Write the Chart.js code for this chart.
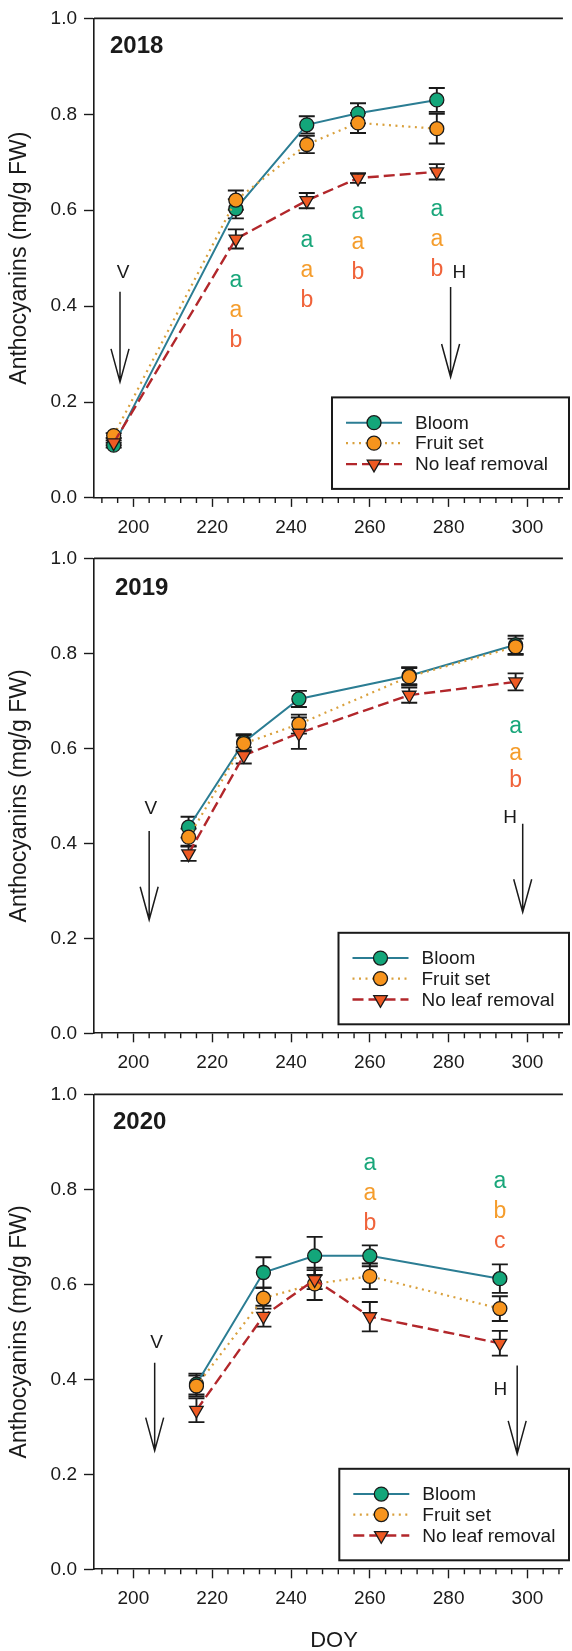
<!DOCTYPE html>
<html>
<head>
<meta charset="utf-8">
<script src="https://cdn.jsdelivr.net/npm/chart.js@4.4.1/dist/chart.umd.min.js"></script>
<style>
  html, body { margin: 0; padding: 0; background: #fff; width: 572px; height: 1651px; overflow: hidden; }
  canvas { position: absolute; left: 0; }
</style>
</head>
<body>
<canvas id="c2018" width="572" height="540" style="top:0px"></canvas>
<canvas id="c2019" width="572" height="536" style="top:540px"></canvas>
<canvas id="c2020" width="572" height="575" style="top:1076px"></canvas>
<script>
// ---- Anthocyanin content (mg/g FW), mean ± SE, by sampling day (DOY) ----
const doy2018 = [195, 226, 244, 257, 277];
const bloom2018 = [0.110, 0.603, 0.778, 0.802, 0.830];
const bloomErr2018 = [0.005, 0.020, 0.018, 0.021, 0.025];
const fruitSet2018 = [0.130, 0.621, 0.737, 0.782, 0.770];
const fruitSetErr2018 = [0.005, 0.020, 0.018, 0.021, 0.031];
const noRemoval2018 = [0.115, 0.540, 0.620, 0.667, 0.680];
const noRemovalErr2018 = [0.005, 0.020, 0.016, 0.010, 0.016];

const doy2019 = [214, 228, 242, 270, 297];
const bloom2019 = [0.434, 0.613, 0.704, 0.753, 0.818];
const bloomErr2019 = [0.022, 0.017, 0.017, 0.018, 0.019];
const fruitSet2019 = [0.413, 0.610, 0.651, 0.751, 0.814];
const fruitSetErr2019 = [0.018, 0.017, 0.020, 0.018, 0.017];
const noRemoval2019 = [0.378, 0.585, 0.632, 0.712, 0.740];
const noRemovalErr2019 = [0.015, 0.017, 0.033, 0.016, 0.018];

const doy2020 = [216, 233, 246, 260, 293];
const bloom2020 = [0.390, 0.625, 0.660, 0.660, 0.612];
const bloomErr2020 = [0.022, 0.032, 0.040, 0.022, 0.030];
const fruitSet2020 = [0.386, 0.571, 0.601, 0.617, 0.549];
const fruitSetErr2020 = [0.022, 0.022, 0.034, 0.027, 0.026];
const noRemoval2020 = [0.335, 0.533, 0.610, 0.532, 0.476];
const noRemovalErr2020 = [0.025, 0.022, 0.020, 0.031, 0.026];

// ---- significance letters (per sampling date) ----
const letterDoy2018 = [226, 244, 257, 277];
const lettersBloom2018 = ['a', 'a', 'a', 'a'];
const lettersFruitSet2018 = ['a', 'a', 'a', 'a'];
const lettersNoRemoval2018 = ['b', 'b', 'b', 'b'];

const letterDoy2019 = [297];
const lettersBloom2019 = ['a'];
const lettersFruitSet2019 = ['a'];
const lettersNoRemoval2019 = ['b'];

const letterDoy2020 = [260, 293];
const lettersBloom2020 = ['a', 'a'];
const lettersFruitSet2020 = ['a', 'b'];
const lettersNoRemoval2020 = ['b', 'c'];

// ---- axis ticks ----
const xTickValues = [200, 220, 240, 260, 280, 300];
const yTickValues = [0, 0.2, 0.4, 0.6, 0.8, 1.0];
const seriesNames = ['Bloom', 'Fruit set', 'No leaf removal'];

const FONT = '"Liberation Sans", Arial, Helvetica, sans-serif';
const INK = '#1a1a1a';
const COLORS = {
  bloomLine: '#2b7d93', bloomFill: '#13a67a',
  fruitLine: '#d9a03c', fruitFill: '#f7941d',
  noneLine: '#b2272b', noneFill: '#ef5a23',
  letters: ['#19a67a', '#f59d2c', '#f0633a']
};

function makePanel(id, p) {
  const datasets = [
    {
      label: seriesNames[0],
      data: p.doy.map((d, i) => ({ x: d, y: p.bloom[i] })),
      err: p.bloomErr,
      borderColor: COLORS.bloomLine, borderWidth: 2,
      pointStyle: 'circle', pointRadius: 7, pointRotation: 0,
      pointBackgroundColor: COLORS.bloomFill, pointBorderColor: INK, pointBorderWidth: 1.3,
      order: 2
    },
    {
      label: seriesNames[1],
      data: p.doy.map((d, i) => ({ x: d, y: p.fruitSet[i] })),
      err: p.fruitSetErr,
      borderColor: COLORS.fruitLine, borderWidth: 2.2, borderDash: [2, 4.5],
      pointStyle: 'circle', pointRadius: 7, pointRotation: 0,
      pointBackgroundColor: COLORS.fruitFill, pointBorderColor: INK, pointBorderWidth: 1.3,
      order: 1
    },
    {
      label: seriesNames[2],
      data: p.doy.map((d, i) => ({ x: d, y: p.noRemoval[i] })),
      err: p.noRemovalErr,
      borderColor: COLORS.noneLine, borderWidth: 2.4, borderDash: [11, 5],
      pointStyle: 'triangle', pointRadius: 7.8, pointRotation: 180,
      pointBackgroundColor: COLORS.noneFill, pointBorderColor: INK, pointBorderWidth: 1.3,
      order: 0
    }
  ];

  const decor = {
    id: 'decor',
    beforeDatasetsDraw(chart) {
      // error bars
      const { ctx, scales: { x, y } } = chart;
      ctx.save();
      ctx.strokeStyle = INK;
      ctx.lineWidth = 1.9;
      chart.data.datasets.forEach(ds => {
        ds.data.forEach((pt, i) => {
          const e = ds.err[i];
          const px = x.getPixelForValue(pt.x);
          const yHi = y.getPixelForValue(pt.y + e);
          const yLo = y.getPixelForValue(pt.y - e);
          ctx.beginPath();
          ctx.moveTo(px, yHi); ctx.lineTo(px, yLo);
          ctx.moveTo(px - 8, yHi); ctx.lineTo(px + 8, yHi);
          ctx.moveTo(px - 8, yLo); ctx.lineTo(px + 8, yLo);
          ctx.stroke();
        });
      });
      ctx.restore();
    },
    afterDraw(chart) {
      const { ctx, chartArea: a, scales: { x, y } } = chart;
      ctx.save();

      // top frame line
      ctx.strokeStyle = INK;
      ctx.lineWidth = 1.6;
      ctx.beginPath();
      ctx.moveTo(a.left, a.top); ctx.lineTo(a.right, a.top);
      ctx.stroke();

      // minor ticks every 4 days
      ctx.lineWidth = 1.4;
      ctx.beginPath();
      for (let v = 192; v <= x.max; v += 4) {
        if (v % 20 === 0) continue;
        const px = x.getPixelForValue(v);
        ctx.moveTo(px, a.bottom); ctx.lineTo(px, a.bottom + 5);
      }
      ctx.stroke();

      // y axis title
      ctx.fillStyle = INK;
      ctx.font = '23px ' + FONT;
      ctx.textAlign = 'center';
      ctx.textBaseline = 'middle';
      ctx.save();
      ctx.translate(20, (a.top + a.bottom) / 2);
      ctx.rotate(-Math.PI / 2);
      ctx.fillText('Anthocyanins (mg/g FW)', 0, 0);
      ctx.restore();

      // year label
      ctx.font = 'bold 24px ' + FONT;
      ctx.textAlign = 'left';
      ctx.textBaseline = 'alphabetic';
      ctx.fillText(p.year, a.left + p.yearDx, a.top + p.yearDy);

      // significance letters
      ctx.font = '23px ' + FONT;
      ctx.textAlign = 'center';
      const rows = [p.lettersBloom, p.lettersFruitSet, p.lettersNoRemoval];
      p.letterDoy.forEach((d, i) => {
        const px = x.getPixelForValue(d);
        const base = y.getPixelForValue(p.letterTop[i]);
        rows.forEach((row, r) => {
          ctx.fillStyle = COLORS.letters[r];
          ctx.fillText(row[i], px, base + r * p.letterGap);
        });
      });

      // veraison / harvest arrows
      ctx.fillStyle = INK;
      ctx.strokeStyle = INK;
      ctx.lineWidth = 1.5;
      ctx.font = '19px ' + FONT;
      ctx.textBaseline = 'middle';
      p.arrows.forEach(ar => {
        const px = x.getPixelForValue(ar.x);
        const top = y.getPixelForValue(ar.top);
        const tip = y.getPixelForValue(ar.tip);
        ctx.beginPath();
        ctx.moveTo(px, top); ctx.lineTo(px, tip);
        ctx.moveTo(px - 9, tip - 33); ctx.lineTo(px, tip); ctx.lineTo(px + 9, tip - 33);
        ctx.stroke();
        ctx.fillText(ar.label, x.getPixelForValue(ar.labelX), y.getPixelForValue(ar.labelY));
      });

      // legend
      const lb = a.bottom - 9, lt = lb - 91.5, lr = 569, ll = p.legendLeft;
      ctx.lineWidth = 2;
      ctx.strokeStyle = INK;
      ctx.strokeRect(ll, lt, lr - ll, lb - lt);
      const rowsY = [25.3, 45.8, 66.7];
      ctx.font = '19px ' + FONT;
      ctx.textAlign = 'left';
      ctx.textBaseline = 'middle';
      chart.data.datasets.forEach((ds, i) => {
        const yy = lt + rowsY[i];
        ctx.save();
        ctx.strokeStyle = ds.borderColor;
        ctx.lineWidth = ds.borderWidth;
        ctx.setLineDash(ds.borderDash || []);
        ctx.beginPath();
        ctx.moveTo(ll + 14, yy); ctx.lineTo(ll + 70, yy);
        ctx.stroke();
        ctx.setLineDash([]);
        ctx.fillStyle = ds.pointBackgroundColor;
        ctx.strokeStyle = ds.pointBorderColor;
        ctx.lineWidth = ds.pointBorderWidth;
        Chart.helpers.drawPoint(ctx, {
          pointStyle: ds.pointStyle, rotation: ds.pointRotation,
          radius: ds.pointRadius, borderWidth: ds.pointBorderWidth
        }, ll + 42, yy);
        ctx.restore();
        ctx.fillStyle = INK;
        ctx.fillText(ds.label, ll + 83, yy + 1);
      });

      // x axis title
      if (p.xTitle) {
        ctx.font = '22px ' + FONT;
        ctx.textAlign = 'center';
        ctx.textBaseline = 'alphabetic';
        ctx.fillText(p.xTitle, x.getPixelForValue(250.9), a.bottom + 77.5);
      }
      ctx.restore();
    }
  };

  return new Chart(document.getElementById(id), {
    type: 'line',
    data: { datasets },
    options: {
      responsive: false,
      animation: false,
      devicePixelRatio: 1,
      layout: { padding: { top: p.padTop, left: 0, right: 0, bottom: 0 } },
      elements: { line: { tension: 0 } },
      plugins: { legend: { display: false }, tooltip: { enabled: false } },
      scales: {
        x: {
          type: 'linear', min: 190, max: 309,
          border: { display: true, color: INK, width: 1.6 },
          grid: { drawOnChartArea: false, tickLength: 9, tickColor: INK, tickWidth: 1.4 },
          ticks: { font: { family: FONT, size: 19 }, color: INK, padding: 9, maxRotation: 0 },
          afterBuildTicks: s => { s.ticks = xTickValues.map(v => ({ value: v })); },
          afterFit: s => { s.height = p.xAxisHeight; }
        },
        y: {
          type: 'linear', min: 0, max: 1,
          border: { display: true, color: INK, width: 1.6 },
          grid: { drawOnChartArea: false, tickLength: 10, tickColor: INK, tickWidth: 1.4 },
          ticks: { font: { family: FONT, size: 19 }, color: INK, padding: 7, callback: v => v.toFixed(1) },
          afterBuildTicks: s => { s.ticks = yTickValues.map(v => ({ value: v })); },
          afterFit: s => { s.width = 94; }
        }
      }
    },
    plugins: [decor]
  });
}

makePanel('c2018', {
  year: '2018', yearDx: 16, yearDy: 34.4,
  padTop: 18.3, xAxisHeight: 42.1, legendLeft: 332,
  doy: doy2018, bloom: bloom2018, bloomErr: bloomErr2018,
  fruitSet: fruitSet2018, fruitSetErr: fruitSetErr2018,
  noRemoval: noRemoval2018, noRemovalErr: noRemovalErr2018,
  letterDoy: letterDoy2018, lettersBloom: lettersBloom2018,
  lettersFruitSet: lettersFruitSet2018, lettersNoRemoval: lettersNoRemoval2018,
  letterTop: [0.440, 0.523, 0.582, 0.588], letterGap: 30,
  arrows: [
    { label: 'V', x: 196.6, top: 0.430, tip: 0.242, labelX: 197.4, labelY: 0.469 },
    { label: 'H', x: 280.5, top: 0.440, tip: 0.252, labelX: 282.7, labelY: 0.469 }
  ]
});

makePanel('c2019', {
  year: '2019', yearDx: 21, yearDy: 36.7,
  padTop: 13.3, xAxisHeight: 42.7, legendLeft: 338.5,
  doy: doy2019, bloom: bloom2019, bloomErr: bloomErr2019,
  fruitSet: fruitSet2019, fruitSetErr: fruitSetErr2019,
  noRemoval: noRemoval2019, noRemovalErr: noRemovalErr2019,
  letterDoy: letterDoy2019, lettersBloom: lettersBloom2019,
  lettersFruitSet: lettersFruitSet2019, lettersNoRemoval: lettersNoRemoval2019,
  letterTop: [0.632], letterGap: 27,
  arrows: [
    { label: 'V', x: 204.0, top: 0.426, tip: 0.239, labelX: 204.4, labelY: 0.472 },
    { label: 'H', x: 298.8, top: 0.441, tip: 0.255, labelX: 295.6, labelY: 0.454 }
  ]
});

makePanel('c2020', {
  year: '2020', yearDx: 19, yearDy: 35,
  padTop: 13.3, xAxisHeight: 81.7, legendLeft: 339.3, xTitle: 'DOY',
  doy: doy2020, bloom: bloom2020, bloomErr: bloomErr2020,
  fruitSet: fruitSet2020, fruitSetErr: fruitSetErr2020,
  noRemoval: noRemoval2020, noRemovalErr: noRemovalErr2020,
  letterDoy: letterDoy2020, lettersBloom: lettersBloom2020,
  lettersFruitSet: lettersFruitSet2020, lettersNoRemoval: lettersNoRemoval2020,
  letterTop: [0.840, 0.802], letterGap: 30,
  arrows: [
    { label: 'V', x: 205.4, top: 0.435, tip: 0.250, labelX: 205.9, labelY: 0.477 },
    { label: 'H', x: 297.4, top: 0.429, tip: 0.243, labelX: 293.1, labelY: 0.379 }
  ]
});
</script>
</body>
</html>
